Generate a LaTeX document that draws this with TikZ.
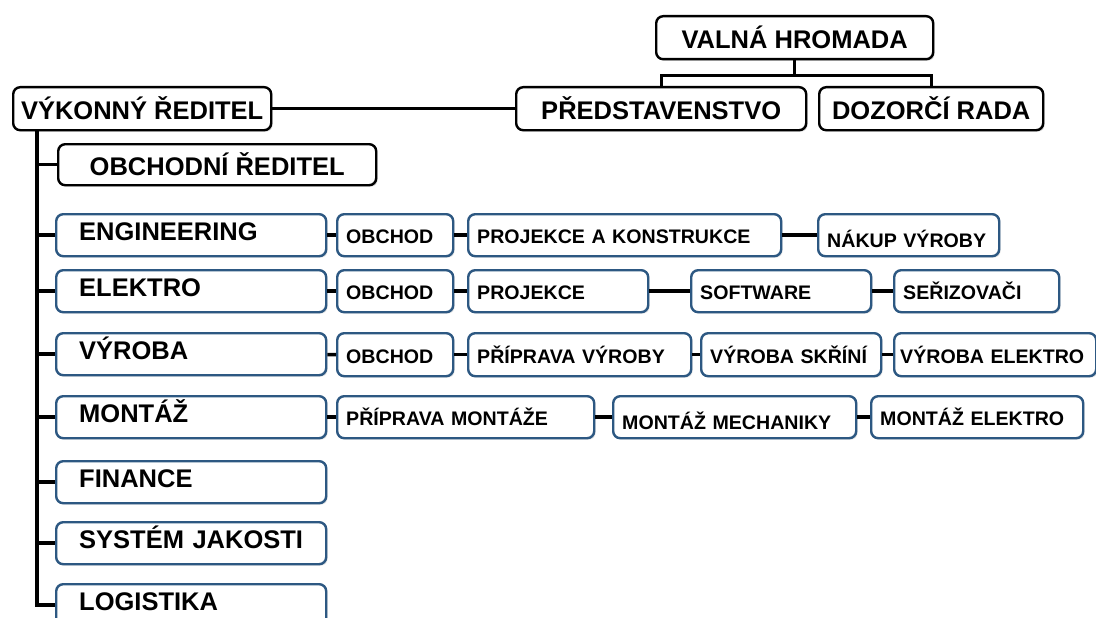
\documentclass[tikz,border=0pt]{standalone}
\usepackage{fontspec}
\setmainfont{Liberation Sans}
\usetikzlibrary{shadows}
\definecolor{boxblue}{RGB}{45,88,130}

\begin{document}
\begin{tikzpicture}[x=1pt, y=-1pt,
    top/.style={rectangle, draw=black, fill=white, line width=2.4pt, rounded corners=7pt, anchor=north west, minimum height=43pt, inner xsep=2pt, font=\bfseries\fontsize{25.5}{28}\selectfont, drop shadow={shadow xshift=1.5pt, shadow yshift=-1.5pt, opacity=0.3}},
    dept/.style={rectangle, draw=boxblue, fill=white, line width=2.4pt, rounded corners=7pt, anchor=north west, minimum height=42pt, inner xsep=23pt, text width=224pt, align=left, text height=18pt, text depth=7pt, font=\bfseries\fontsize{25.5}{28}\selectfont, drop shadow={shadow xshift=1.5pt, shadow yshift=-1.5pt, opacity=0.2}},
    unit/.style={rectangle, draw=boxblue, fill=white, line width=2.4pt, rounded corners=7pt, anchor=north west, minimum height=42pt, inner xsep=9pt, text width=#1, align=left, text height=17pt, text depth=0pt, font=\bfseries\fontsize{19.6}{22}\selectfont, drop shadow={shadow xshift=1.5pt, shadow yshift=-1.5pt, opacity=0.2}},
    low/.style={text height=25pt},
    link/.style={line width=3.5pt}
]
\useasboundingbox (0,0) rectangle (1096,618);

% Top
\node[top, minimum width=277pt] (valna) at (655,15) {VALNÁ HROMADA};
\node[top, minimum width=290pt] (predst) at (515,86) {PŘEDSTAVENSTVO};
\node[top, minimum width=224pt] (dozor) at (818,86) {DOZORČÍ RADA};
\node[top, minimum width=258pt] (vykonny) at (12,86) {VÝKONNÝ ŘEDITEL};
\node[top, minimum width=318pt, minimum height=41pt] (obchodni) at (57,143) {OBCHODNÍ ŘEDITEL};

% Departments
\node[dept] (eng) at (55,213) {ENGINEERING};
\node[dept] (elektro) at (55,269) {ELEKTRO};
\node[dept] (vyroba) at (55,332) {VÝROBA};
\node[dept] (montaz) at (55,395) {MONTÁŽ};
\node[dept] (finance) at (55,460) {FINANCE};
\node[dept] (jakost) at (55,521) {SYSTÉM JAKOSTI};
\node[dept] (logistika) at (55,583) {LOGISTIKA};

% Engineering row
\node[unit=98pt] (engobchod) at (336,213) {OBCHOD};
\node[unit=295pt] (engproj) at (467,213) {PROJEKCE A KONSTRUKCE};
\node[unit=163pt, low] (engnakup) at (817,213) {NÁKUP VÝROBY};

% Elektro row
\node[unit=98pt] (elobchod) at (336,269) {OBCHOD};
\node[unit=162pt] (elproj) at (467,269) {PROJEKCE};
\node[unit=162pt] (elsoft) at (690,269) {SOFTWARE};
\node[unit=147pt] (elseriz) at (893,269) {SEŘIZOVAČI};

% Vyroba row
\node[unit=98pt, minimum height=43pt] (vyobchod) at (336,332) {OBCHOD};
\node[unit=205pt, minimum height=43pt] (vyprip) at (467,332) {PŘÍPRAVA VÝROBY};
\node[unit=162pt, minimum height=43pt] (vyskrine) at (700,332) {VÝROBA SKŘÍNÍ};
\node[unit=190pt, inner xsep=6pt, minimum height=43pt] (vyelektro) at (893,332) {\mbox{VÝROBA ELEKTRO}};

% Montaz row
\node[unit=239pt] (mopri) at (336,395) {PŘÍPRAVA MONTÁŽE};
\node[unit=225pt, low] (momech) at (612,395) {MONTÁŽ MECHANIKY};
\node[unit=194pt] (moelektro) at (870,395) {MONTÁŽ ELEKTRO};

% Connectors
\draw[line width=3pt] (valna.south) -- ++(0,15) coordinate (vhj);
\draw[line width=3pt] (predst.north) |- (vhj) -| (dozor.north);
\draw[link] (vykonny.east) -- (predst.west);

\coordinate (tr) at (37,0);
\draw[link] (tr |- vykonny.south) -- (tr |- logistika.west) -- (logistika.west);
\foreach \n in {obchodni, eng, elektro, vyroba, montaz, finance, jakost}
    \draw[link] (tr |- \n.west) -- (\n.west);

\draw[link] (eng) -- (engobchod);
\draw[link] (engobchod) -- (engproj);
\draw[link] (engproj) -- (engnakup);
\draw[link] (elektro) -- (elobchod);
\draw[link] (elobchod) -- (elproj);
\draw[link] (elproj) -- (elsoft);
\draw[link] (elsoft) -- (elseriz);
\draw[link] (vyroba) -- (vyobchod);
\draw[link] (vyobchod) -- (vyprip);
\draw[link] (vyprip) -- (vyskrine);
\draw[link] (vyskrine) -- (vyelektro);
\draw[link] (montaz) -- (mopri);
\draw[link] (mopri) -- (momech);
\draw[link] (momech) -- (moelektro);

\end{tikzpicture}
\end{document}
